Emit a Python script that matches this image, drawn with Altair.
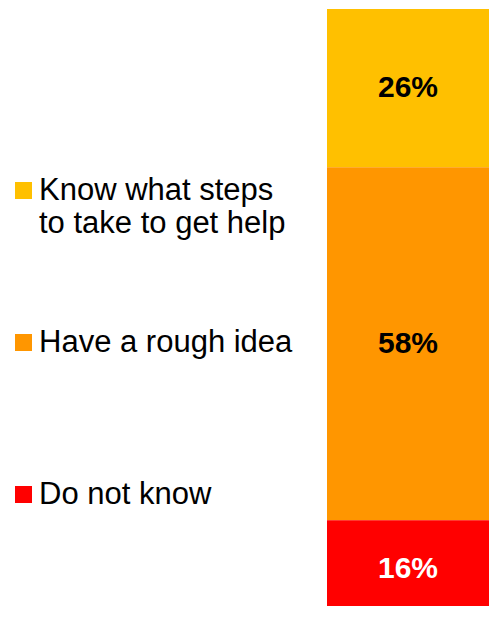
import altair as alt
import pandas as pd

categories = ["Know what steps\nto take to get help", "Have a rough idea", "Do not know"]
values = [26, 58, 16]
labels = ["26%", "58%", "16%"]
colors = ["#FFC000", "#FF9600", "#FF0000"]
label_colors = ["black", "black", "white"]
stack_order = [3, 2, 1]

df = pd.DataFrame({
    "category": categories,
    "value": values,
    "label": labels,
    "order": stack_order,
    "txtcolor": label_colors,
    "group": ["all"] * 3,
})

FONT = "Liberation Sans"

base = alt.Chart(df)

label_expr = ("length(split(datum.label, '\\n')) > 1 ? split(datum.label, '\\n') "
              ": [datum.label, '']")

# the reference crops the bottom of the bar at the page edge
y_scale = alt.Scale(domain=[1.9, 100], nice=False, zero=False)

bars = base.mark_bar(clip=True).encode(
    x=alt.X("group:N", axis=None, scale=alt.Scale(paddingInner=0, paddingOuter=0)),
    y=alt.Y("value:Q", stack="zero", axis=None, scale=y_scale),
    color=alt.Color(
        "category:N",
        scale=alt.Scale(domain=categories, range=colors),
        legend=alt.Legend(
            title=None, orient="none", legendX=-319, legendY=166,
            direction="vertical",
            symbolType="square", symbolSize=289, symbolStrokeWidth=0,
            symbolOpacity=1,
            labelFont=FONT, labelFontSize=31, labelColor="black",
            labelOffset=0, labelLimit=500, labelBaseline="middle",
            rowPadding=87, padding=0, labelExpr=label_expr,
        ),
    ),
    order=alt.Order("order:Q"),
)

text = base.transform_window(
    cum="sum(value)", sort=[alt.SortField("order")]
).transform_calculate(
    mid="datum.cum - datum.value / 2"
).mark_text(font=FONT, fontSize=30, fontWeight="bold", baseline="middle").encode(
    x=alt.X("group:N", axis=None),
    y=alt.Y("mid:Q", scale=y_scale),
    text="label:N",
    color=alt.Color("txtcolor:N", scale=None),
)

chart = alt.layer(bars, text).properties(
    width=162, height=597,
    padding={"left": 319, "top": 1, "right": 0, "bottom": 0},
    autosize=alt.AutoSizeParams(type="none"),
    background="white",
).configure_view(stroke=None)

chart.save("out.html", embed_options={"renderer": "svg", "actions": False})
